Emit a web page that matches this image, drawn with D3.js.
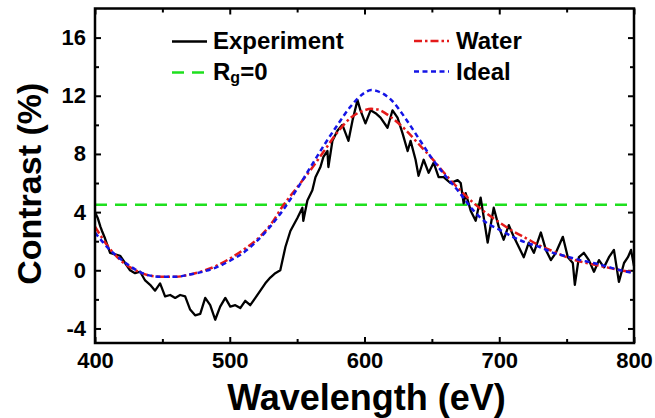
<!DOCTYPE html>
<html lang="en">

<head>
    <meta charset="UTF-8">
    <title>Contrast vs Wavelength</title>
    <script src="https://d3js.org/d3.v7.min.js"></script>
    <style>
        body {
            margin: 0;
            background: #fff;
        }

        .curve {
            fill: none;
            stroke-linejoin: round;
        }

        .legend {
            font-family: "Liberation Sans", Arial, sans-serif;
            font-weight: bold;
            font-size: 24px;
        }
    </style>
</head>

<body>
    <div id="chart"></div>

    <script>
        // experiment (noisy)
        const expWave = [400, 402, 404, 405.2, 407.4, 411.2, 414.9, 418.6, 422.3, 426, 429.7, 433.5, 437.2, 440.9,
            444.6, 448.3, 452, 455.8, 459.5, 463.2, 466.9, 470.6, 474.3, 478.1, 481.8, 485.5, 489.2, 492.9, 496.7,
            500.4, 504.1, 507.8, 511.5, 515.2, 519, 522.7, 526.4, 530.1, 533.8, 537.5, 541.3, 545, 550.2, 553.9,
            554.6, 557.6, 561.3, 563.6, 567.3, 569.5, 572.5, 573.2, 576.2, 579.9, 583.6, 588.1, 591.1, 594.8, 597,
            600.7, 604.5, 608.2, 611.9, 617.1, 620.8, 624.5, 628.3, 632, 634.2, 637.9, 640.1, 643.9, 647.6, 651.3,
            655, 658.7, 663.9, 669.1, 671.4, 673.6, 675.1, 678.8, 682.5, 686.2, 691.4, 695.9, 699.6, 703.3, 707.1,
            710.8, 714.5, 718.2, 721.9, 725.7, 730.9, 734.6, 738.3, 742, 747.2, 750.9, 754.6, 756.1, 759.1, 762.8,
            766.5, 770.3, 774, 777.7, 781.4, 785.1, 788.8, 792.6, 795.5, 797.8, 800];
        const expContrast = [4.0, 3.6, 3.0, 2.7, 2.2, 1.2, 1.1, 1.0, 0.5, 0.0, -0.2, -0.1, -0.7, -1.0,
            -1.4, -0.9, -1.8, -1.7, -1.9, -1.7, -1.8, -2.7, -3.1, -3.0, -1.9, -2.4, -3.4, -2.5, -1.9,
            -2.5, -2.4, -2.6, -2.1, -2.4, -1.9, -1.4, -0.9, -0.5, -0.2, 0.0, 1.6, 2.7, 3.6, 4.3,
            3.4, 4.8, 5.5, 6.4, 7.1, 7.8, 8.2, 7.1, 8.9, 9.6, 10.0, 8.9, 10.3, 11.7, 11.0,
            10.1, 11.0, 10.8, 10.5, 9.8, 11.0, 10.5, 9.4, 8.2, 8.9, 7.6, 6.5, 7.6, 6.7, 7.4,
            6.4, 6.4, 6.0, 6.2, 6.0, 4.6, 5.3, 4.1, 3.4, 5.0, 1.9, 4.3, 3.0, 2.1, 3.1,
            2.3, 1.6, 0.9, 1.9, 1.2, 2.6, 1.4, 0.7, 1.2, 2.3, 0.9, 0.5, -1.0, 0.9, 1.2,
            0.7, -0.1, 0.7, 0.2, 0.9, 1.4, -0.8, 0.5, 0.9, 1.4, 0.3];

        // model curves
        const modelWave = [400, 410, 420, 430, 440, 450, 460, 470, 480, 490, 500, 510, 520, 530, 540, 550, 560, 570,
            580, 590, 600, 605, 610, 620, 630, 640, 650, 660, 670, 680, 690, 700, 710, 720, 730, 740, 750, 760, 770,
            780, 790, 800];
        const waterContrast = [3.0, 1.6, 0.6, 0.0, -0.35, -0.45, -0.45, -0.3, -0.05, 0.3, 0.8, 1.4, 2.1, 3.1, 4.5,
            5.7, 6.9, 8.2, 9.5, 10.5, 11.0, 11.1, 11.05, 10.5, 9.7, 8.7, 7.7, 6.6, 5.6, 4.7, 3.95, 3.3, 2.7, 2.2,
            1.7, 1.3, 0.9, 0.6, 0.4, 0.2, 0.0, -0.1];
        const idealContrast = [2.6, 1.5, 0.7, 0.05, -0.35, -0.45, -0.45, -0.3, -0.1, 0.2, 0.65, 1.2, 2.0, 3.0, 4.2,
            5.6, 7.1, 8.6, 10.0, 11.3, 12.2, 12.4, 12.3, 11.7, 10.5, 9.1, 7.7, 6.5, 5.4, 4.2, 3.3, 2.8, 2.3, 1.9,
            1.6, 1.2, 0.95, 0.7, 0.5, 0.25, 0.0, -0.2];

        const rg0Level = 4.5;

        const xMajor = [400, 500, 600, 700, 800];
        const xMinor = [450, 550, 650, 750];
        const yMajor = [-4, 0, 4, 8, 12, 16];
        const yMinor = [-2, 2, 6, 10, 14];

        const width = 655;
        const height = 418;
        const marginTop = 8.5;
        const marginRight = 21;
        const marginBottom = 75;
        const marginLeft = 95;
        const font = '"Liberation Sans", Arial, sans-serif';

        const svg = d3.select("#chart")
            .append("svg")
            .attr("width", width)
            .attr("height", height)
            .attr("viewBox", [0, 0, width, height]);

        const x = d3.scaleLinear().domain([400, 800]).range([marginLeft, width - marginRight]);
        const y = d3.scaleLinear().domain([-5, 18]).range([height - marginBottom, marginTop]);

        const line = d3.line()
            .x(d => x(d[0]))
            .y(d => y(d[1]));

        const smooth = d3.line()
            .x(d => x(d[0]))
            .y(d => y(d[1]))
            .curve(d3.curveMonotoneX);

        // axes (ticks point inward)
        function styleAxis(g) {
            g.select(".domain").remove();
            g.selectAll(".tick line").attr("stroke", "#000").attr("stroke-width", 2);
            g.selectAll("text")
                .attr("font-family", font)
                .attr("font-weight", "bold")
                .attr("font-size", 22)
                .attr("fill", "#000");
        }

        const plain = d => String(d);   // hyphen minus like the original

        const bottomY = height - marginBottom;
        svg.append("g")
            .attr("transform", `translate(0,${bottomY})`)
            .call(d3.axisBottom(x).tickValues(xMajor).tickSize(-6).tickPadding(9).tickFormat(plain))
            .call(styleAxis);
        svg.append("g")
            .attr("transform", `translate(0,${bottomY})`)
            .call(d3.axisBottom(x).tickValues(xMinor).tickSize(-4).tickFormat(""))
            .call(styleAxis);
        svg.append("g")
            .attr("transform", `translate(0,${marginTop})`)
            .call(d3.axisTop(x).tickValues(xMajor).tickSize(-6).tickFormat(""))
            .call(styleAxis);
        svg.append("g")
            .attr("transform", `translate(0,${marginTop})`)
            .call(d3.axisTop(x).tickValues(xMinor).tickSize(-4).tickFormat(""))
            .call(styleAxis);

        svg.append("g")
            .attr("transform", `translate(${marginLeft},0)`)
            .call(d3.axisLeft(y).tickValues(yMajor).tickSize(-6).tickPadding(9).tickFormat(plain))
            .call(styleAxis);
        svg.append("g")
            .attr("transform", `translate(${marginLeft},0)`)
            .call(d3.axisLeft(y).tickValues(yMinor).tickSize(-4).tickFormat(""))
            .call(styleAxis);
        svg.append("g")
            .attr("transform", `translate(${width - marginRight},0)`)
            .call(d3.axisRight(y).tickValues(yMajor).tickSize(-6).tickFormat(""))
            .call(styleAxis);
        svg.append("g")
            .attr("transform", `translate(${width - marginRight},0)`)
            .call(d3.axisRight(y).tickValues(yMinor).tickSize(-4).tickFormat(""))
            .call(styleAxis);

        // Rg = 0 level
        svg.append("line")
            .attr("x1", x(400))
            .attr("x2", x(800))
            .attr("y1", y(rg0Level))
            .attr("y2", y(rg0Level))
            .attr("stroke", "#1ee01e")
            .attr("stroke-width", 2.5)
            .attr("stroke-dasharray", "12,8");

        svg.append("path")
            .datum(expWave.map((w, i) => [w, expContrast[i]]))
            .attr("class", "curve")
            .attr("stroke", "#000")
            .attr("stroke-width", 2.3)
            .attr("d", line);

        svg.append("path")
            .datum(modelWave.map((w, i) => [w, waterContrast[i]]))
            .attr("class", "curve")
            .attr("stroke", "#e41a1a")
            .attr("stroke-width", 2.5)
            .attr("stroke-dasharray", "8,3,2.5,3")
            .attr("d", smooth);

        svg.append("path")
            .datum(modelWave.map((w, i) => [w, idealContrast[i]]))
            .attr("class", "curve")
            .attr("stroke", "#1414e6")
            .attr("stroke-width", 2.5)
            .attr("stroke-dasharray", "5,3.5")
            .attr("d", smooth);

        // frame
        svg.append("rect")
            .attr("x", marginLeft)
            .attr("y", marginTop)
            .attr("width", width - marginLeft - marginRight)
            .attr("height", height - marginTop - marginBottom)
            .attr("fill", "none")
            .attr("stroke", "#000")
            .attr("stroke-width", 2.5);

        // axis titles
        svg.append("text")
            .attr("x", (x(400) + x(800)) / 2 + 2)
            .attr("y", 410)
            .attr("text-anchor", "middle")
            .attr("font-family", font)
            .attr("font-weight", "bold")
            .attr("font-size", 36)
            .text("Wavelength (eV)");

        svg.append("text")
            .attr("transform", `translate(41,${(y(-5) + y(18)) / 2 + 8}) rotate(-90)`)
            .attr("text-anchor", "middle")
            .attr("font-family", font)
            .attr("font-weight", "bold")
            .attr("font-size", 34)
            .text("Contrast (%)");

        // legend
        const legendItems = [
            { x: 172, y: 41.5, color: "#000", dash: null, width: 2.3 },
            { x: 172, y: 72.5, color: "#1ee01e", dash: "12,8", width: 2.5 },
            { x: 414, y: 41, color: "#e41a1a", dash: "8,3,2.5,3", width: 2.5 },
            { x: 414, y: 71.5, color: "#1414e6", dash: "5,3.5", width: 2.5 }
        ];
        legendItems.forEach(d => {
            svg.append("line")
                .attr("x1", d.x)
                .attr("x2", d.x + 35)
                .attr("y1", d.y)
                .attr("y2", d.y)
                .attr("stroke", d.color)
                .attr("stroke-width", d.width)
                .attr("stroke-dasharray", d.dash);
        });

        svg.append("text").attr("class", "legend").attr("x", 213).attr("y", 49).text("Experiment");
        svg.append("text").attr("class", "legend").attr("x", 456).attr("y", 49).text("Water");
        svg.append("text").attr("class", "legend").attr("x", 456).attr("y", 80).text("Ideal");
        const rg = svg.append("text").attr("class", "legend").attr("x", 213).attr("y", 80);
        rg.append("tspan").text("R");
        rg.append("tspan").attr("font-size", 16).attr("dy", 3).text("g");
        rg.append("tspan").attr("dy", -3).text("=0");
    </script>
</body>

</html>
